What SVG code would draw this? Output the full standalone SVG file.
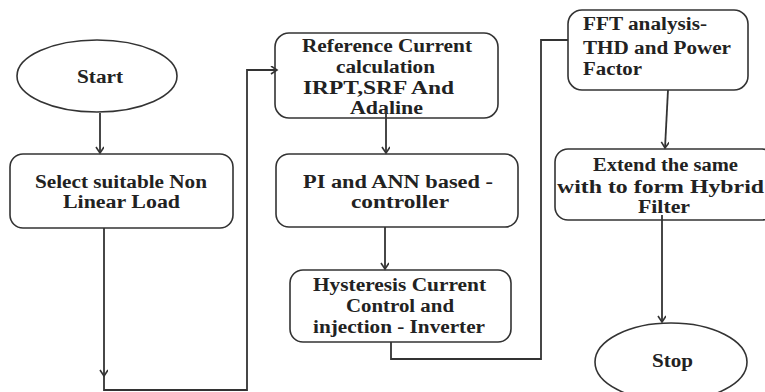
<svg xmlns="http://www.w3.org/2000/svg" width="765" height="392" viewBox="0 0 765 392">
<defs>
<marker id="arr" markerWidth="10" markerHeight="10" refX="7" refY="4" orient="auto" markerUnits="userSpaceOnUse">
<path d="M1,0 L7,4 L1,8" fill="none" stroke="#333" stroke-width="1.6"/>
</marker>
<style>
.n{fill:#fff;stroke:#333;stroke-width:1.6}
.c{fill:none;stroke:#333;stroke-width:1.8}
text{font-family:"Liberation Serif","Times New Roman",serif;font-weight:bold;font-size:18px;fill:#222}
</style>
</defs>
<rect width="765" height="392" fill="#fff"/>
<g id="start"><ellipse class="n" cx="97" cy="76" rx="80" ry="36"/><text x="77" y="83" textLength="46" lengthAdjust="spacingAndGlyphs">Start</text></g>
<g id="select"><rect class="n" x="10" y="154" width="223" height="74" rx="13"/>
<text x="35" y="188" textLength="172" lengthAdjust="spacingAndGlyphs">Select suitable Non</text>
<text x="63" y="208" textLength="117" lengthAdjust="spacingAndGlyphs">Linear  Load</text></g>
<g id="ref"><rect class="n" x="275" y="33" width="223" height="85" rx="14"/>
<text x="302" y="52" textLength="170" lengthAdjust="spacingAndGlyphs">Reference Current</text>
<text x="336" y="73" textLength="99" lengthAdjust="spacingAndGlyphs">calculation</text>
<text x="303" y="94" textLength="151" lengthAdjust="spacingAndGlyphs">IRPT,SRF And</text>
<text x="350" y="114" textLength="73" lengthAdjust="spacingAndGlyphs">Adaline</text></g>
<g id="pi"><rect class="n" x="276" y="154" width="242" height="73" rx="13"/>
<text x="303" y="188" textLength="190" lengthAdjust="spacingAndGlyphs">PI and ANN based -</text>
<text x="351" y="208" textLength="98" lengthAdjust="spacingAndGlyphs">controller</text></g>
<g id="hyst"><rect class="n" x="290" y="270" width="221" height="72" rx="13"/>
<text x="313" y="291" textLength="173" lengthAdjust="spacingAndGlyphs">Hysteresis Current</text>
<text x="346" y="312" textLength="108" lengthAdjust="spacingAndGlyphs">Control and</text>
<text x="313" y="333" textLength="172" lengthAdjust="spacingAndGlyphs">injection - Inverter</text></g>
<g id="fft"><rect class="n" x="568" y="10" width="180" height="80" rx="14"/>
<text x="583" y="30" textLength="124" lengthAdjust="spacingAndGlyphs">FFT analysis-</text>
<text x="583" y="54" textLength="148" lengthAdjust="spacingAndGlyphs">THD and Power</text>
<text x="583" y="75" textLength="59" lengthAdjust="spacingAndGlyphs">Factor</text></g>
<g id="extend"><rect class="n" x="555" y="149" width="220" height="71" rx="13"/>
<text x="593" y="171" textLength="145" lengthAdjust="spacingAndGlyphs">Extend the same</text>
<text x="557" y="193" textLength="207" lengthAdjust="spacingAndGlyphs">with to form Hybrid</text>
<text x="638" y="213" textLength="52" lengthAdjust="spacingAndGlyphs">Filter</text></g>
<g id="stop"><ellipse class="n" cx="671" cy="362" rx="76" ry="39"/>
<text x="652" y="367" textLength="41" lengthAdjust="spacingAndGlyphs">Stop</text></g>
<g id="connectors">
<path class="c" d="M100,113 V153" marker-end="url(#arr)"/>
<path class="c" d="M104,228 V376" marker-end="url(#arr)"/>
<path class="c" d="M104,376 V390 H247 V70 H277" marker-end="url(#arr)"/>
<path class="c" d="M386,110 V153" marker-end="url(#arr)"/>
<path class="c" d="M385,227 V269" marker-end="url(#arr)"/>
<path class="c" d="M391,342 V359 H541 V40 H568"/>
<path class="c" d="M668,90 L665,148" marker-end="url(#arr)"/>
<path class="c" d="M662,215 V322" marker-end="url(#arr)"/>
</g>
</svg>
